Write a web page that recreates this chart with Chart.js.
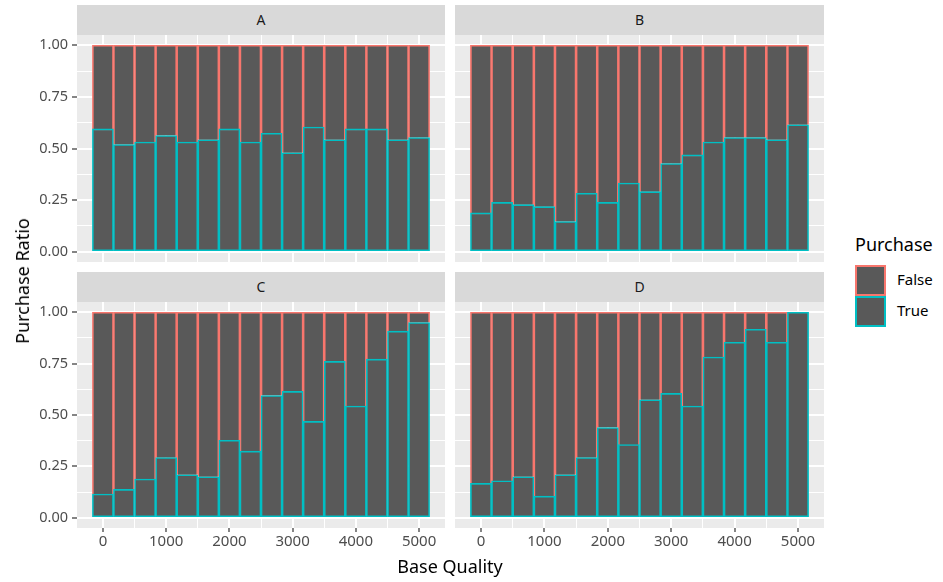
<!DOCTYPE html>
<html>
<head>
<meta charset="utf-8">
<script src="https://cdn.jsdelivr.net/npm/chart.js@4"></script>
<style>
	body { margin: 0; background: #fff; width: 943px; height: 582px; position: relative; overflow: hidden;
		font-family: "Noto Sans", sans-serif; }
	.panel { position: absolute; }
	.strip { position: absolute; background: #D9D9D9; color: #1A1A1A; font-size: 14px;
		height: 30px; line-height: 30px; text-align: center; }
	.axtitle { position: absolute; color: #000; font-size: 18px; white-space: nowrap; }
	.key { position: absolute; width: 27px; height: 27px; background: #595959; border: 2px solid; }
	.keylab { position: absolute; font-size: 15px; color: #000; }
</style>
</head>
<body>

<div class="strip" style="left:77px;top:5px;width:368px;">A</div>
<div class="strip" style="left:455px;top:5px;width:369px;">B</div>
<div class="strip" style="left:77px;top:272px;width:368px;">C</div>
<div class="strip" style="left:455px;top:272px;width:369px;">D</div>

<div class="panel" style="left:0;top:35px;width:445px;height:227px;"><canvas id="panel-a"></canvas></div>
<div class="panel" style="left:455px;top:35px;width:369px;height:227px;"><canvas id="panel-b"></canvas></div>
<div class="panel" style="left:0;top:302px;width:445px;height:258px;"><canvas id="panel-c"></canvas></div>
<div class="panel" style="left:455px;top:302px;width:369px;height:258px;"><canvas id="panel-d"></canvas></div>

<div class="axtitle" style="left:22px;top:281px;transform:translate(-50%,-50%) rotate(-90deg);">Purchase Ratio</div>
<div class="axtitle" style="left:450px;top:566px;transform:translate(-50%,-50%);">Base Quality</div>

<div class="axtitle" style="left:855px;top:232px;">Purchase</div>
<div class="key" style="left:855px;top:265px;border-color:#F8766D;"></div>
<div class="keylab" style="left:897px;top:269px;">False</div>
<div class="key" style="left:855px;top:296px;border-color:#00BFC4;"></div>
<div class="keylab" style="left:897px;top:300px;">True</div>

<script>
// centres des classes (binwidth ~333)
const binCenters = [0, 333, 667, 1000, 1333, 1667, 2000, 2333, 2667, 3000, 3333, 3667, 4000, 4333, 4667, 5000];

// part de "True" par classe
const trueA = [0.595, 0.519, 0.531, 0.563, 0.531, 0.542, 0.595, 0.531, 0.574, 0.479, 0.604, 0.542, 0.595, 0.595, 0.542, 0.553];
const trueB = [0.188, 0.239, 0.228, 0.218, 0.146, 0.283, 0.239, 0.333, 0.291, 0.427, 0.469, 0.531, 0.553, 0.553, 0.542, 0.615];
const trueC = [0.115, 0.138, 0.188, 0.293, 0.209, 0.199, 0.377, 0.324, 0.595, 0.615, 0.469, 0.761, 0.544, 0.772, 0.908, 0.950];
const trueD = [0.167, 0.180, 0.199, 0.105, 0.209, 0.293, 0.439, 0.356, 0.574, 0.605, 0.544, 0.782, 0.854, 0.917, 0.854, 1.000];

const xTicks = [0, 1000, 2000, 3000, 4000, 5000];
const xMinor = [500, 1500, 2500, 3500, 4500];
const yTicks = [0, 0.25, 0.5, 0.75, 1];
const yMinor = [0.125, 0.375, 0.625, 0.875];

const FONT = "'Noto Sans', sans-serif";

// fond gris du panneau
const fondPanneau = {
	id: "fondPanneau",
	beforeDraw(chart) {
		const a = chart.chartArea;
		const ctx = chart.ctx;
		ctx.save();
		ctx.fillStyle = "#EBEBEB";
		ctx.fillRect(a.left, a.top, a.right - a.left, a.bottom - a.top);
		ctx.restore();
	}
};

function isMajor(list, v) {
	return list.some(t => Math.abs(t - v) < 1e-9);
}

// le contexte n'a pas toujours de tick
function majeur(list, c) {
	return !!(c && c.tick) && isMajor(list, c.tick.value);
}

// pas de marge auto pour les labels
function sansMarge(s) {
	s.paddingTop = 0;
	s.paddingBottom = 0;
	s.paddingLeft = 0;
	s.paddingRight = 0;
}

function creerPanneau(id, valeurs, showY, showX) {
	const data = {
		datasets: [
			{
				label: "True",
				data: valeurs.map((v, i) => ({ x: binCenters[i], y: v })),
				backgroundColor: "#595959",
				borderColor: "#00BFC4",
				borderWidth: 1.6,
				borderSkipped: false
			},
			{
				label: "False",
				data: valeurs.map((v, i) => ({ x: binCenters[i], y: 1 - v })),
				backgroundColor: "#595959",
				borderColor: "#F8766D",
				borderWidth: 1.6,
				borderSkipped: "start"
			}
		]
	};

	const config = {
		type: "bar",
		data: data,
		options: {
			responsive: true,
			maintainAspectRatio: false,
			animation: false,
			layout: { padding: 0, autoPadding: false },
			plugins: { legend: { display: false }, tooltip: { enabled: false } },
			datasets: { bar: { barPercentage: 1, categoryPercentage: 1 } },
			scales: {
				x: {
					type: "linear",
					stacked: true,
					min: -410,
					max: 5410,
					offset: false,
					border: { display: false },
					afterBuildTicks: s => { s.ticks = xTicks.concat(xMinor).sort((a, b) => a - b).map(v => ({ value: v })); },
					afterFit: s => { s.height = showX ? 32 : 0; sansMarge(s); },
					grid: {
						offset: false,
						color: "#FFFFFF",
						lineWidth: c => majeur(xTicks, c) ? 2 : 1,
						drawTicks: showX,
						tickLength: 4,
						tickWidth: 1.2,
						tickColor: c => majeur(xTicks, c) ? "#333333" : "rgba(0,0,0,0)"
					},
					ticks: {
						display: showX,
						autoSkip: false,
						maxRotation: 0,
						minRotation: 0,
						padding: 1,
						color: "#4D4D4D",
						font: { family: FONT, size: 15 },
						callback: v => isMajor(xTicks, v) ? String(v) : ""
					}
				},
				y: {
					stacked: true,
					min: -0.05,
					max: 1.05,
					border: { display: false },
					afterBuildTicks: s => { s.ticks = yTicks.concat(yMinor).sort((a, b) => a - b).map(v => ({ value: v })); },
					afterFit: s => { s.width = showY ? 77 : 0; sansMarge(s); },
					grid: {
						offset: false,
						color: "#FFFFFF",
						lineWidth: c => majeur(yTicks, c) ? 2 : 1,
						drawTicks: showY,
						tickLength: 5,
						tickWidth: 1.2,
						tickColor: c => majeur(yTicks, c) ? "#333333" : "rgba(0,0,0,0)"
					},
					ticks: {
						display: showY,
						autoSkip: false,
						padding: 4,
						color: "#4D4D4D",
						font: { family: FONT, size: 14.5 },
						callback: v => isMajor(yTicks, v) ? v.toFixed(2) : ""
					}
				}
			}
		},
		plugins: [fondPanneau]
	};

	return new Chart(document.querySelector(id), config);
}

function dessiner() {
	creerPanneau("#panel-a", trueA, true, false);
	creerPanneau("#panel-b", trueB, false, false);
	creerPanneau("#panel-c", trueC, true, true);
	creerPanneau("#panel-d", trueD, false, true);
}

document.fonts.load("15px 'Noto Sans'").then(dessiner, dessiner);
</script>
</body>
</html>
